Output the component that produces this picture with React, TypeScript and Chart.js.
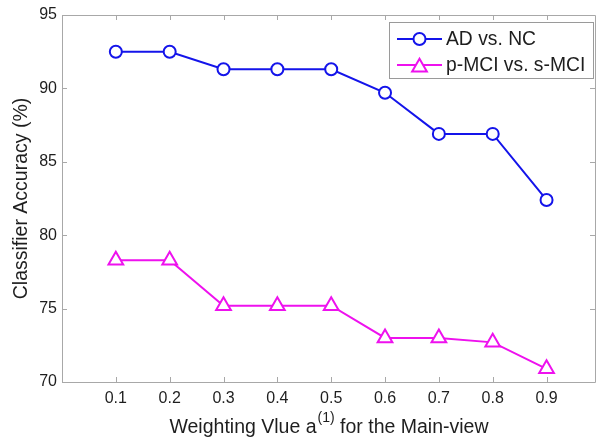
import React, { useEffect, useRef } from "react";
import Chart from "chart.js/auto";

const weights = [0.1, 0.2, 0.3, 0.4, 0.5, 0.6, 0.7, 0.8, 0.9];
const adVsNc = [92.5, 92.5, 91.3, 91.3, 91.3, 89.7, 86.9, 86.9, 82.4];
const pmciVsSmci = [78.3, 78.3, 75.2, 75.2, 75.2, 73.0, 73.0, 72.7, 70.9];
const seriesNames = ["AD vs. NC", "p-MCI vs. s-MCI"];
const xTickValues = [0.1, 0.2, 0.3, 0.4, 0.5, 0.6, 0.7, 0.8, 0.9];
const yTickValues = [70, 75, 80, 85, 90, 95];

const BLUE = "#1414ea";
const MAGENTA = "#ee11ee";
const FONT = "'Liberation Sans', Arial, Helvetica, sans-serif";
const AXIS = "#a8a8a8";
const TEXT = "#1e1e1e";

const framePlugin = {
  id: "matlabFrame",
  beforeDatasetsDraw(chart: any) {
    const { ctx, chartArea: a, scales } = chart;
    const x = scales.x;
    const y = scales.y;
    ctx.save();
    ctx.strokeStyle = AXIS;
    ctx.lineWidth = 1;
    ctx.beginPath();
    ctx.rect(Math.round(a.left) + 0.5, Math.round(a.top) + 0.5, Math.round(a.right - a.left), Math.round(a.bottom - a.top));
    ctx.stroke();
    const tl = 5;
    ctx.beginPath();
    xTickValues.forEach((v) => {
      const px = Math.round(x.getPixelForValue(v)) + 0.5;
      ctx.moveTo(px, a.bottom);
      ctx.lineTo(px, a.bottom - tl);
      ctx.moveTo(px, a.top);
      ctx.lineTo(px, a.top + tl);
    });
    yTickValues.forEach((v) => {
      const py = Math.round(y.getPixelForValue(v)) + 0.5;
      ctx.moveTo(a.left, py);
      ctx.lineTo(a.left + tl, py);
      ctx.moveTo(a.right, py);
      ctx.lineTo(a.right - tl, py);
    });
    ctx.stroke();
    ctx.restore();
  },
  afterDraw(chart: any) {
    const { ctx, chartArea: a } = chart;
    ctx.save();
    const mainSize = 19.5;
    const supSize = 14;
    const p1 = "Weighting Vlue a";
    const sup = "(1)";
    const p2 = " for the Main-view";
    ctx.font = `${mainSize}px ${FONT}`;
    const w1 = ctx.measureText(p1).width;
    const w3 = ctx.measureText(p2).width;
    ctx.font = `${supSize}px ${FONT}`;
    const w2 = ctx.measureText(sup).width;
    const total = w1 + w2 + w3;
    const cx = (a.left + a.right) / 2;
    let sx = cx - total / 2;
    const base = 433;
    ctx.fillStyle = TEXT;
    ctx.textBaseline = "alphabetic";
    ctx.textAlign = "left";
    ctx.font = `${mainSize}px ${FONT}`;
    ctx.fillText(p1, sx, base);
    sx += w1;
    ctx.font = `${supSize}px ${FONT}`;
    ctx.fillText(sup, sx + 1, base - 11);
    sx += w2 + 1;
    ctx.font = `${mainSize}px ${FONT}`;
    ctx.fillText(p2, sx, base);

    ctx.save();
    ctx.translate(22, (a.top + a.bottom) / 2);
    ctx.rotate(-Math.PI / 2);
    ctx.textAlign = "center";
    ctx.textBaseline = "middle";
    ctx.font = `${mainSize}px ${FONT}`;
    ctx.fillText("Classifier Accuracy (%)", 0, 0);
    ctx.restore();

    const lx = 389.5, ly = 22.5, lw = 204, lh = 56;
    ctx.fillStyle = "#ffffff";
    ctx.fillRect(lx, ly, lw, lh);
    ctx.strokeStyle = "#9a9a9a";
    ctx.lineWidth = 1;
    ctx.strokeRect(lx, ly, lw, lh);
    const rows = [
      { name: seriesNames[0], color: BLUE, style: "circle", y: 39 },
      { name: seriesNames[1], color: MAGENTA, style: "triangle", y: 65 },
    ];
    rows.forEach((r) => {
      ctx.strokeStyle = r.color;
      ctx.lineWidth = 2;
      ctx.beginPath();
      ctx.moveTo(397, r.y);
      ctx.lineTo(442, r.y);
      ctx.stroke();
      ctx.fillStyle = "#ffffff";
      ctx.beginPath();
      if (r.style === "circle") {
        ctx.arc(419.5, r.y, 6, 0, Math.PI * 2);
      } else {
        const rr = 8.5;
        const cy = r.y + rr / 4;
        ctx.moveTo(419.5, cy - rr);
        ctx.lineTo(419.5 + rr * Math.sin((2 * Math.PI) / 3), cy + rr / 2);
        ctx.lineTo(419.5 - rr * Math.sin((2 * Math.PI) / 3), cy + rr / 2);
        ctx.closePath();
      }
      ctx.fill();
      ctx.stroke();
      ctx.fillStyle = TEXT;
      ctx.font = `19.3px ${FONT}`;
      ctx.textAlign = "left";
      ctx.textBaseline = "middle";
      ctx.fillText(r.name, 446, r.y + 1);
    });
    ctx.restore();
  },
};

export default function App() {
  const ref = useRef<HTMLCanvasElement | null>(null);
  useEffect(() => {
    if (!ref.current) return;
    const chart = new Chart(ref.current, {
      type: "line",
      data: {
        datasets: [
          {
            label: seriesNames[0],
            data: weights.map((w, i) => ({ x: w, y: adVsNc[i] })),
            borderColor: BLUE,
            backgroundColor: "#ffffff",
            borderWidth: 2,
            pointStyle: "circle",
            pointRadius: 6,
            pointBorderWidth: 2,
            pointBackgroundColor: "#ffffff",
            pointBorderColor: BLUE,
            tension: 0,
          },
          {
            label: seriesNames[1],
            data: weights.map((w, i) => ({ x: w, y: pmciVsSmci[i] })),
            borderColor: MAGENTA,
            backgroundColor: "#ffffff",
            borderWidth: 2,
            pointStyle: "triangle",
            pointRadius: 8.5,
            pointBorderWidth: 2,
            pointBackgroundColor: "#ffffff",
            pointBorderColor: MAGENTA,
            tension: 0,
          },
        ],
      },
      options: {
        responsive: false,
        animation: false,
        layout: { autoPadding: false, padding: { left: 0, top: 15, right: 4, bottom: 0 } },
        plugins: { legend: { display: false }, tooltip: { enabled: false }, title: { display: false } },
        scales: {
          x: {
            type: "linear",
            min: 0,
            max: 0.99,
            grid: { display: false, drawTicks: false },
            border: { display: false },
            afterBuildTicks: (s: any) => {
              s.ticks = xTickValues.map((v) => ({ value: v }));
            },
            afterFit: (s: any) => {
              s.height = 60;
              s.paddingLeft = 0;
              s.paddingRight = 0;
            },
            ticks: {
              autoSkip: false,
              maxRotation: 0,
              padding: 7,
              color: TEXT,
              font: { family: FONT, size: 16 },
              callback: (v: any) => Number(v).toFixed(1),
            },
          },
          y: {
            min: 70,
            max: 95,
            grid: { display: false, drawTicks: false },
            border: { display: false },
            afterBuildTicks: (s: any) => {
              s.ticks = yTickValues.map((v) => ({ value: v }));
            },
            afterFit: (s: any) => {
              s.width = 62;
              s.paddingTop = 0;
              s.paddingBottom = 0;
            },
            ticks: {
              padding: 5,
              color: TEXT,
              font: { family: FONT, size: 16 },
              callback: (v: any) => String(v),
            },
          },
        },
      },
      plugins: [framePlugin],
    });
    return () => chart.destroy();
  }, []);
  return (
    <div style={{ position: "fixed", left: 0, top: 0, width: 599, height: 442, background: "#fff" }}>
      <canvas ref={ref} width={599} height={442} style={{ display: "block" }} />
    </div>
  );
}
